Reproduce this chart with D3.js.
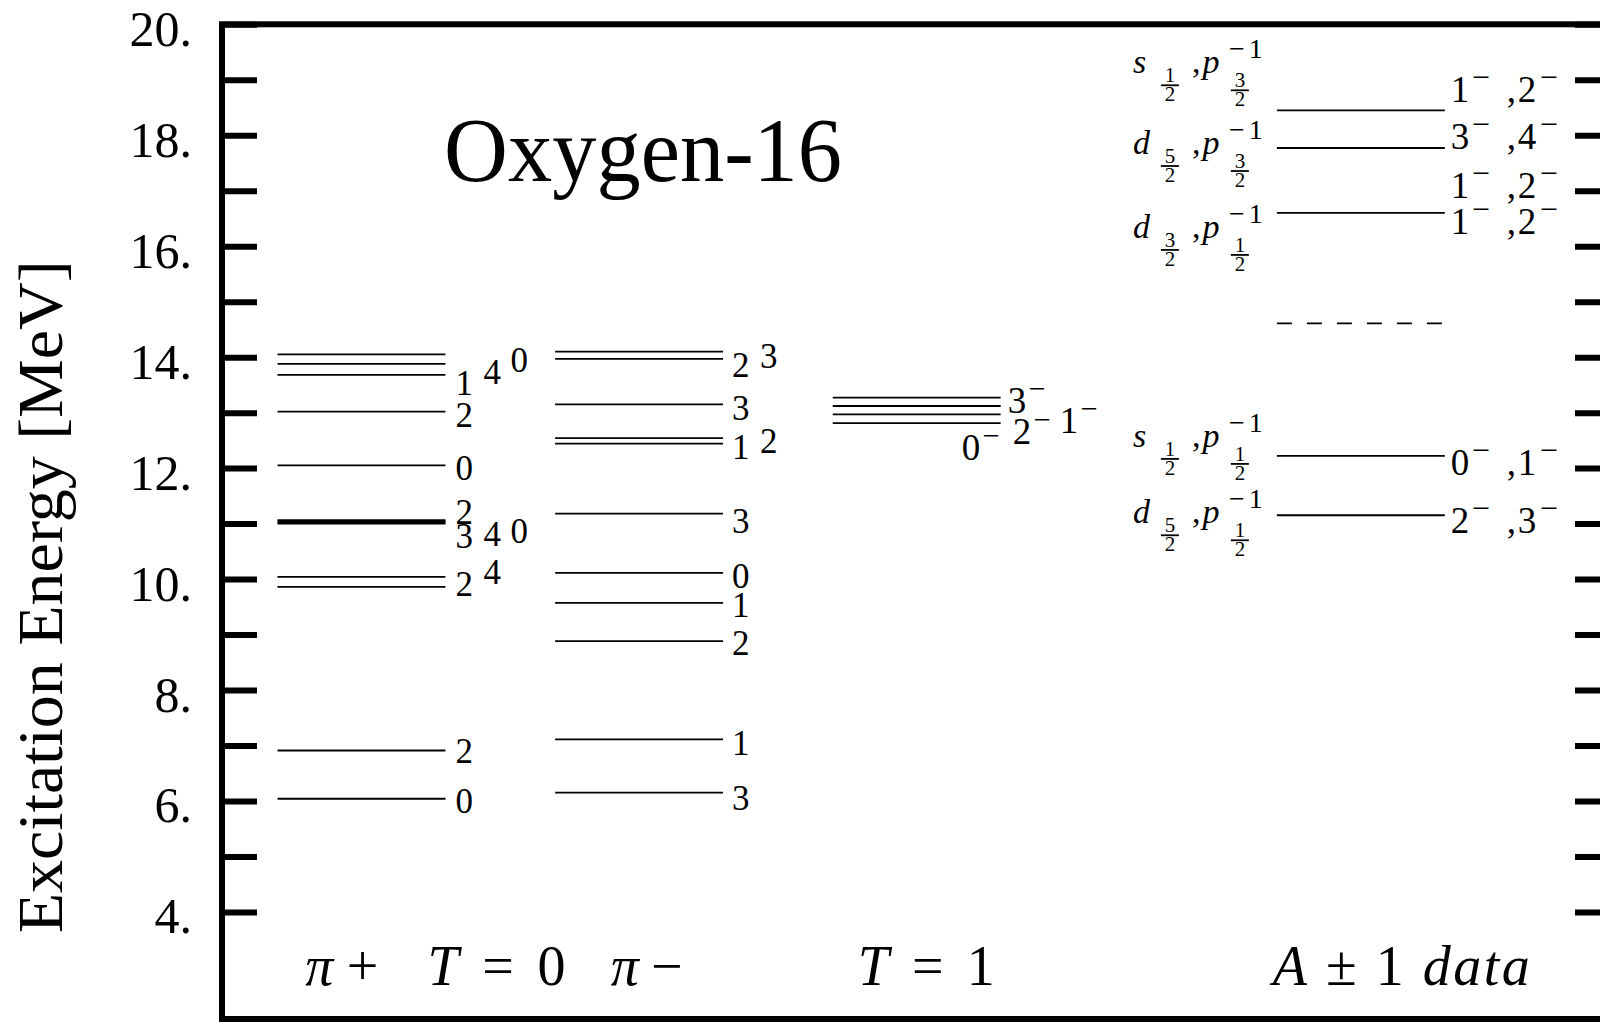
<!DOCTYPE html>
<html>
<head>
<meta charset="utf-8">
<script src="https://cdn.jsdelivr.net/npm/d3@7"></script>
<style>
  html, body { margin: 0; padding: 0; background: #fff; overflow: hidden; }
  svg { display: block; }
  text { font-family: "Liberation Serif", "Times New Roman", serif; fill: #000; white-space: pre; }
</style>
</head>
<body>
<svg id="chart" width="1600" height="1022"></svg>
<script>
// ---- Level energies (MeV) and spins ----
// T = 0, positive parity
const piPlusEnergy = [14.05, 13.88, 13.68, 13.02, 12.05, 11.06, 11.04, 11.02, 11.00, 10.04, 9.86, 6.91, 6.04];
const piPlusSpin   = ["0", "4", "1", "2", "0", "2", "3", "4", "0", "4", "2", "2", "0"];
// T = 0, negative parity
const piMinusEnergy = [14.10, 13.97, 13.15, 12.54, 12.44, 11.18, 10.11, 9.57, 8.88, 7.11, 6.15];
const piMinusSpin   = ["3", "2", "3", "2", "1", "3", "0", "1", "2", "1", "3"];
// T = 1, negative parity
const tOneEnergy = [13.27, 13.12, 12.97, 12.81];
const tOneSpin   = ["3", "1", "2", "0"];
// Particle-hole energies from A±1 data
const phEnergy    = [18.45, 17.77, 16.60, 12.22, 11.15];
const phParticle  = ["s", "d", "d", "s", "d"];
const phParticleJ = [["1", "2"], ["5", "2"], ["3", "2"], ["1", "2"], ["5", "2"]];
const phHole      = ["p", "p", "p", "p", "p"];
const phHoleJ     = [["3", "2"], ["3", "2"], ["1", "2"], ["1", "2"], ["1", "2"]];
const phSpins     = [[["1", "2"]], [["3", "4"], ["1", "2"]], [["1", "2"]], [["0", "1"]], [["2", "3"]]];
const phDashed    = [14.61];
// Axis ticks
const yTicks = d3.range(4, 21);
// Column captions: [text, italic]
const captionParts = [
  [["π", true], ["+", false]],
  [["T", true], [" = 0", false]],
  [["π", true], ["−", false]],
  [["T", true], [" = 1", false]],
  [["A", true], [" ± 1 ", false], ["data", true]]
];
const titleText = "Oxygen-16";
const yTitle = "Excitation Energy [MeV]";

// ---- Layout ----
const svg = d3.select("#chart");
const y = d3.scaleLinear().domain([2.07, 20]).range([1019, 24.3]);
const x = d3.scaleLinear().domain([0.8, 5.8]).range([222, 1610]);
const LEVEL_LEN = 0.605;
const ink = "#000";

// label nudges [dx from line end, dy of label centre from line], px
const piPlusLabelNudge  = [[65, 6], [38, 8], [10, 8], [10, 4], [10, 3], [10, -8], [10, 15], [38, 12], [65, 8], [38, -5], [10, -3], [10, 1], [10, 2]];
const piMinusLabelNudge = [[37, 4], [9, 6], [9, 4], [37, 3], [9, 3], [9, 7], [9, 3], [9, 2], [9, 2], [9, 4], [9, 5]];
const tOneLabelNudge    = [[7, 2.5], [59, 14], [12, 17], [-39, 24]];

// frame
svg.append("rect")
  .attr("x", x(0.8)).attr("y", y(20))
  .attr("width", x(5.8) - x(0.8)).attr("height", y(2.07) - y(20))
  .attr("fill", "none").attr("stroke", ink).attr("stroke-width", 6);

// left axis with inward ticks
const leftAxis = d3.axisLeft(y).tickValues(yTicks).tickSizeInner(-35).tickSizeOuter(0)
  .tickPadding(30).tickFormat(d => d % 2 === 0 ? d + "." : "");
const gl = svg.append("g").attr("transform", `translate(${x(0.8)},0)`).call(leftAxis);
gl.attr("font-family", null).attr("font-size", null);
gl.select(".domain").remove();
gl.selectAll(".tick line").attr("stroke", ink).attr("stroke-width", 6);
gl.selectAll(".tick text").attr("font-size", 50).attr("dy", "0.42em").attr("fill", ink);

// right axis, ticks only
const rightAxis = d3.axisRight(y).tickValues(yTicks).tickSizeInner(-35).tickSizeOuter(0).tickFormat("");
const gr = svg.append("g").attr("transform", `translate(${x(5.8)},0)`).call(rightAxis);
gr.select(".domain").remove();
gr.selectAll(".tick line").attr("stroke", ink).attr("stroke-width", 6);

// title
svg.append("text").attr("x", x(1.6)).attr("y", y(17.18))
  .attr("font-size", 90).attr("textLength", 398).attr("lengthAdjust", "spacingAndGlyphs")
  .text(titleText);

// y-axis title
svg.append("text")
  .attr("transform", `translate(62,${y(9.68)}) rotate(-90)`)
  .attr("text-anchor", "middle").attr("font-size", 63)
  .attr("textLength", 673).attr("lengthAdjust", "spacingAndGlyphs")
  .text(yTitle);

// level columns
const columns = [
  { u: 1, energy: piPlusEnergy,  spin: piPlusSpin,  nudge: piPlusLabelNudge,  parity: false, size: 35 },
  { u: 2, energy: piMinusEnergy, spin: piMinusSpin, nudge: piMinusLabelNudge, parity: false, size: 35 },
  { u: 3, energy: tOneEnergy,    spin: tOneSpin,    nudge: tOneLabelNudge,    parity: true,  size: 37 }
];

columns.forEach(col => {
  const g = svg.append("g");
  const x0 = x(col.u), x1 = x(col.u + LEVEL_LEN);
  g.selectAll("line").data(col.energy).join("line")
    .attr("x1", x0).attr("x2", x1)
    .attr("y1", d => y(d)).attr("y2", d => y(d))
    .attr("stroke", ink).attr("stroke-width", 1.8);
  col.energy.forEach((e, i) => {
    const [dx, dy] = col.nudge[i];
    const t = g.append("text")
      .attr("x", x1 + dx)
      .attr("y", y(e) + dy + 0.34 * col.size)
      .attr("font-size", col.size);
    t.append("tspan").text(col.spin[i]);
    if (col.parity) {
      t.append("tspan").attr("font-size", col.size * 0.82).attr("dx", 2)
        .attr("dy", -col.size * 0.38).text("−");
    }
  });
});

// particle-hole column
const gph = svg.append("g");
const px0 = x(4.6), px1 = x(4.6 + LEVEL_LEN);
gph.selectAll("line.ph").data(phEnergy).join("line").attr("class", "ph")
  .attr("x1", px0).attr("x2", px1)
  .attr("y1", d => y(d)).attr("y2", d => y(d))
  .attr("stroke", ink).attr("stroke-width", 1.8);
gph.selectAll("line.dash").data(phDashed).join("line").attr("class", "dash")
  .attr("x1", px0).attr("x2", px1)
  .attr("y1", d => y(d)).attr("y2", d => y(d))
  .attr("stroke", ink).attr("stroke-width", 1.8).attr("stroke-dasharray", "15,15");

// configuration label placement (baseline offset from line) and spin label offsets
const configBaseline = [-37, 6, 25, -9, 8];
const spinBaseline   = [[-8], [1, 50], [21], [19], [18]];
// horizontal offsets of the pieces of a spin label "a−,b−"
const spinPieceX = [0, 21, 56, 67, 89];

function fraction(g, cx, base, pair) {
  g.append("text").attr("x", cx).attr("y", base).attr("text-anchor", "middle")
    .attr("font-size", 21).text(pair[0]);
  g.append("line").attr("x1", cx - 9).attr("x2", cx + 9)
    .attr("y1", base + 3).attr("y2", base + 3)
    .attr("stroke", ink).attr("stroke-width", 1.8);
  g.append("text").attr("x", cx).attr("y", base + 19).attr("text-anchor", "middle")
    .attr("font-size", 21).text(pair[1]);
}

phEnergy.forEach((e, i) => {
  const ly = y(e);
  const B = ly + configBaseline[i];
  const xb = px0 - 144;
  const g = gph.append("g");
  g.append("text").attr("x", xb).attr("y", B).attr("font-size", 34)
    .attr("font-style", "italic").text(phParticle[i]);
  fraction(g, xb + 37, B + 9, phParticleJ[i]);
  const t = g.append("text").attr("x", xb + 59).attr("y", B).attr("font-size", 34);
  t.append("tspan").text(",");
  t.append("tspan").attr("dx", 2).attr("font-style", "italic").text(phHole[i]);
  const sup = g.append("text").attr("x", xb + 96).attr("y", B - 15).attr("font-size", 28);
  sup.append("tspan").text("−");
  sup.append("tspan").attr("dx", 4).text("1");
  fraction(g, xb + 107, B + 14, phHoleJ[i]);

  phSpins[i].forEach((pair, k) => {
    const base = ly + spinBaseline[i][k];
    const s = g.append("text").attr("y", base).attr("font-size", 37);
    const pieces = [[pair[0], 37, 0], ["−", 32, -14], [",", 37, 0], [pair[1], 37, 0], ["−", 32, -14]];
    pieces.forEach(([txt, fs, off], j) => {
      s.append("tspan").attr("x", px1 + 6 + spinPieceX[j]).attr("y", base + off)
        .attr("font-size", fs).text(txt);
    });
  });
});

// column captions
const captionAt    = [1.1, 1.54, 2.2, 3.09, 4.585];
const captionWidth = [73, 138, 72, 137, 257];
captionParts.forEach((parts, i) => {
  const t = svg.append("text").attr("x", x(captionAt[i])).attr("y", y(2.68))
    .attr("font-size", 56).attr("textLength", captionWidth[i]).attr("lengthAdjust", "spacing");
  parts.forEach(([txt, it]) => {
    t.append("tspan").attr("font-style", it ? "italic" : "normal").text(txt);
  });
});
</script>
</body>
</html>
